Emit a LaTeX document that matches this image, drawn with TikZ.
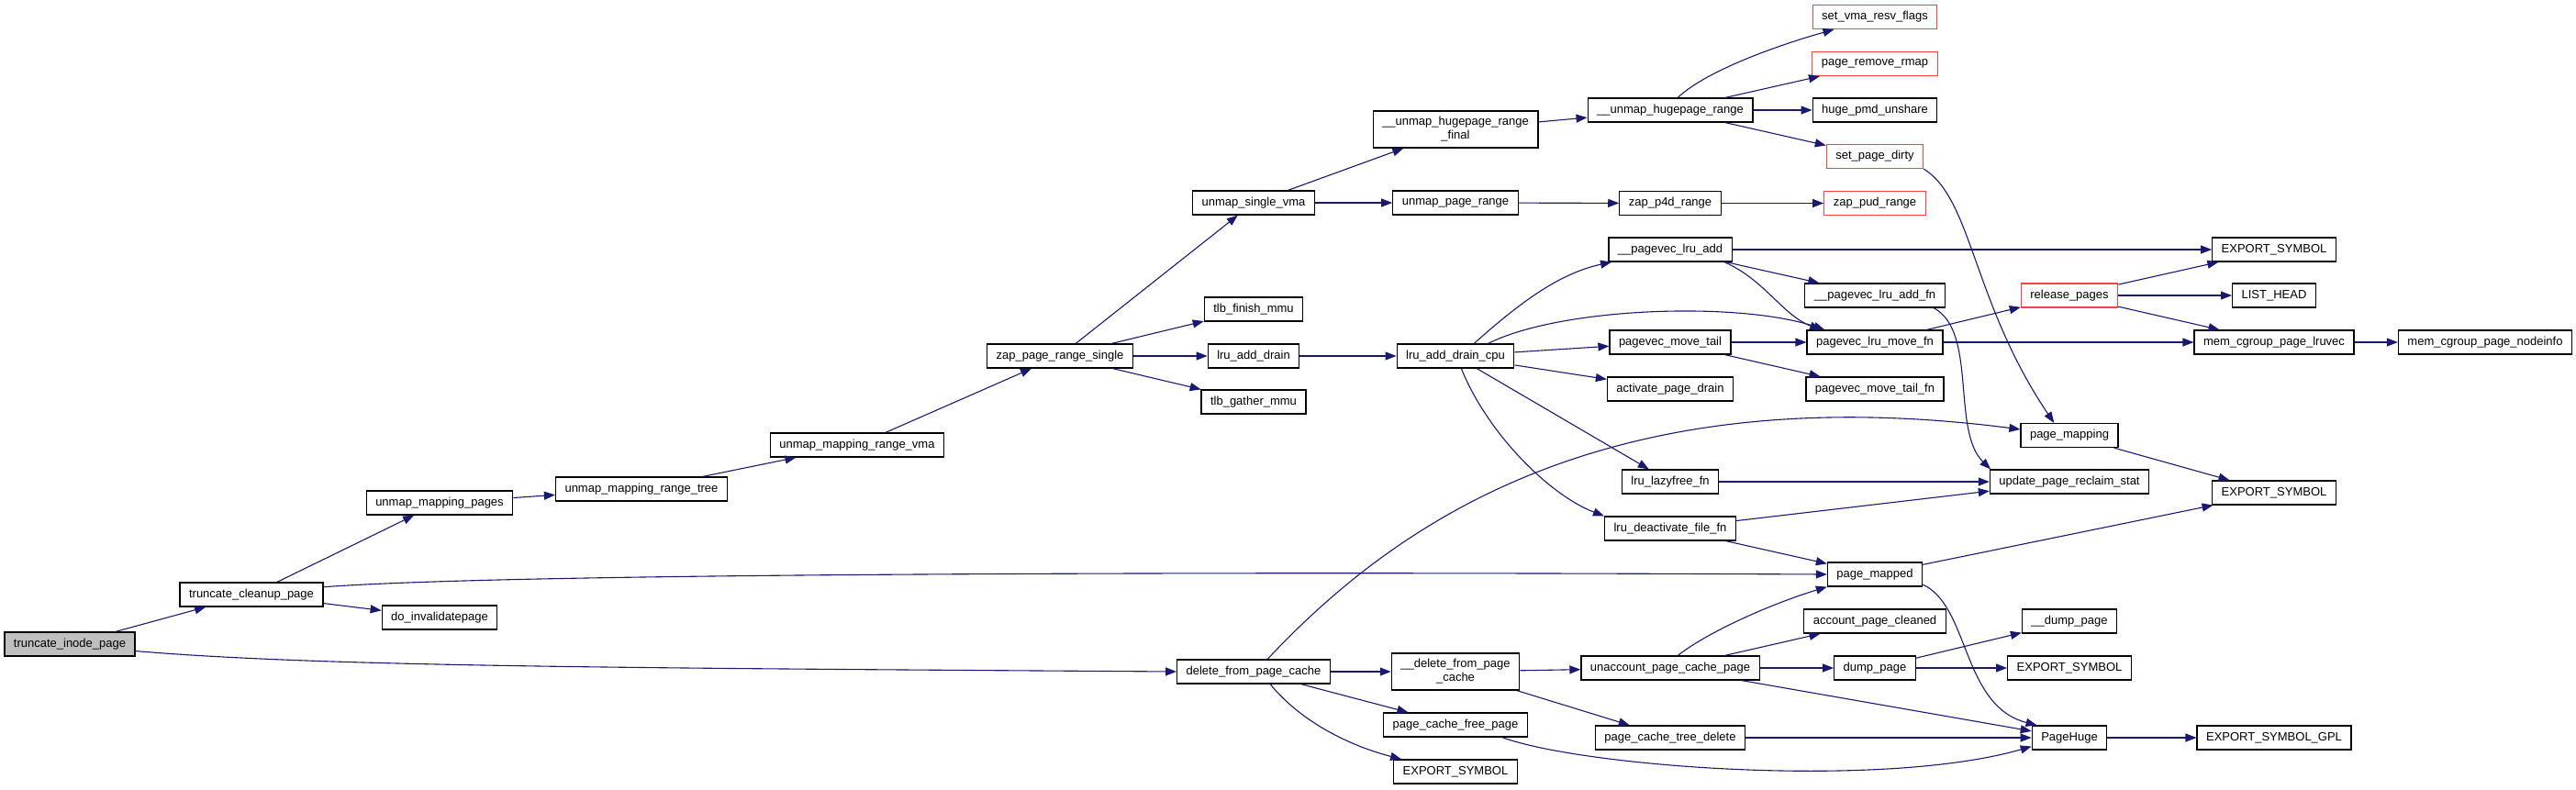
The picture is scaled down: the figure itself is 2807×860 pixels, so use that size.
\documentclass[tikz,border=0pt]{standalone}
\usepackage{fontspec}
\usetikzlibrary{arrows.meta}
\newfontfamily\dxfont{Liberation Sans}
\definecolor{edgeblue}{HTML}{191970}
\definecolor{stubred}{HTML}{FF4040}

\tikzstyle{func}=[rectangle,draw=black,line width=1.2pt,fill=white,minimum height=26pt,inner xsep=10pt,inner ysep=2pt,font=\dxfont\fontsize{13}{15}\selectfont,align=center]
\tikzstyle{stub}=[func,draw=stubred]
\tikzstyle{call}=[draw=edgeblue,line width=1.1pt,-{Triangle[length=12pt,width=9pt]}]

\begin{document}
\begin{tikzpicture}[x=1pt,y=-1pt]
\useasboundingbox (0,0) rectangle (2807,860);
\node[func,fill=black!25] (tip) at (76,702) {truncate\_inode\_page};
\foreach \pos/\name/\txt in {{(274,648)/tcp/truncate\_cleanup\_page}, {(479,548)/ump/unmap\_mapping\_pages}, {(479,673)/dip/do\_invalidatepage},
  {(699,533)/umrt/unmap\_mapping\_range\_tree}, {(934,485)/umrv/unmap\_mapping\_range\_vma}, {(1155,388)/zprs/zap\_page\_range\_single},
  {(1366,221)/usv/unmap\_single\_vma}, {(1366,337)/tfm/tlb\_finish\_mmu}, {(1366,388)/lad/lru\_add\_drain}, {(1366,438)/tgm/tlb\_gather\_mmu},
  {(1366,732)/dfpc/delete\_from\_page\_cache}, {(1586,221)/upr/unmap\_page\_range}, {(1586,388)/ladc/lru\_add\_drain\_cpu},
  {(1586,790)/pcfp/page\_cache\_free\_page}, {(1586,841)/es_d/EXPORT\_SYMBOL}, {(1820,120)/uhr/\_\_unmap\_hugepage\_range},
  {(1820,221.5)/zp4/zap\_p4d\_range}, {(1820,272)/pla/\_\_pagevec\_lru\_add}, {(1820,373)/pmt/pagevec\_move\_tail},
  {(1820,424)/apd/activate\_page\_drain}, {(1820,525)/llf/lru\_lazyfree\_fn}, {(1820,576)/ldff/lru\_deactivate\_file\_fn},
  {(1820,728)/upcp/unaccount\_page\_cache\_page}, {(1820,804)/pctd/page\_cache\_tree\_delete}, {(2043,120)/hpu/huge\_pmd\_unshare},
  {(2043,322)/plaf/\_\_pagevec\_lru\_add\_fn}, {(2043,373)/plmf/pagevec\_lru\_move\_fn}, {(2043,424)/pmtf/pagevec\_move\_tail\_fn},
  {(2043,626)/pmd/page\_mapped}, {(2043,677)/apc/account\_page\_cleaned}, {(2043,728)/dp/dump\_page},
  {(2255,474.5)/pmg/page\_mapping}, {(2255,525)/uprs/update\_page\_reclaim\_stat}, {(2255,677)/ddp/\_\_dump\_page},
  {(2255,728)/es_dp/EXPORT\_SYMBOL}, {(2255,804)/ph/PageHuge}, {(2478,272)/es_a/EXPORT\_SYMBOL}, {(2478,322)/lh/LIST\_HEAD},
  {(2478,373)/mcpl/mem\_cgroup\_page\_lruvec}, {(2478,537)/es_m/EXPORT\_SYMBOL}, {(2478,804)/esg/EXPORT\_SYMBOL\_GPL},
  {(2708,373)/mcpn/mem\_cgroup\_page\_nodeinfo}}
\node[func] (\name) at \pos {\txt};
\foreach \pos/\name/\txt in {{(2043,18.5)/svrf/set\_vma\_resv\_flags}, {(2043,69.5)/prr/page\_remove\_rmap}, {(2043,170.5)/spd/set\_page\_dirty},
  {(2043,221.5)/zpud/zap\_pud\_range}, {(2255,322)/rp/release\_pages}}
\node[stub] (\name) at \pos {\txt};
\node[func,minimum height=40pt] (uhrf) at (1586,141) {\_\_unmap\_hugepage\_range\\\_final};
\node[func,minimum height=40pt] (ddfpc) at (1586,732) {\_\_delete\_from\_page\\\_cache};

\foreach \source/\dest in {tip/tcp, tcp/ump, tcp/dip, ump/umrt, umrt/umrv, umrv/zprs, zprs/usv, zprs/tfm, zprs/lad, zprs/tgm,
  usv/uhrf, usv/upr, uhrf/uhr, upr/zp4, zp4/zpud, uhr/prr, uhr/hpu, uhr/spd, lad/ladc, ladc/pmt, ladc/apd, ladc/llf,
  pla/es_a, pla/plaf, pmt/plmf, pmt/pmtf, plmf/rp, plmf/mcpl, rp/es_a, rp/lh, rp/mcpl, mcpl/mcpn, llf/uprs, ldff/uprs,
  ldff/pmd, pmg/es_m, pmd/es_m, dfpc/ddfpc, dfpc/pcfp, ddfpc/upcp, ddfpc/pctd, upcp/apc, upcp/dp, upcp/ph, dp/ddp,
  dp/es_dp, pctd/ph, ph/esg}
\draw[call] (\source) -- (\dest);

% bent calls
\draw[call] (tip.-6) .. controls +(200,17) and +(-600,-4) .. (dfpc.west);
\draw[call] (tcp.6) .. controls +(200,-15) and +(-700,-3) .. (pmd.west);
\draw[call] (uhr.59) .. controls +(34,-32) and +(-50,14) .. (svrf.197);
\draw[call] (spd.south east) .. controls +(53,33) and +(-89,-132) .. (pmg.141);
\draw[call] (plaf.-12) .. controls +(48,25) and +(-43,-42) .. (uprs.171);
\draw[call] (ladc.34) .. controls +(45,-40) and +(-60,13) .. (pla.192);
\draw[call] (ladc.21) .. controls +(80,-40) and +(-93,-31) .. (plmf.166);
\draw[call] (ladc.-65) .. controls +(28,70) and +(-60,-23) .. (ldff.north west);
\draw[call] (pla.-13) .. controls +(45,20) and +(-42,-16) .. (plmf.167);
\draw[call] (dfpc.42) .. controls +(140,-149) and +(-452,-58) .. (pmg.173);
\draw[call] (dfpc.-37) .. controls +(37,45) and +(-50,-13) .. (es_d.167);
\draw[call] (pcfp.-15) .. controls +(87,32) and +(-164,47) .. (ph.193);
\draw[call] (upcp.59) .. controls +(39,-30) and +(-50,15) .. (pmd.south west);
\draw[call] (pmd.-12) .. controls +(51,23) and +(-82,-21) .. (ph.159);
\end{tikzpicture}
\end{document}
